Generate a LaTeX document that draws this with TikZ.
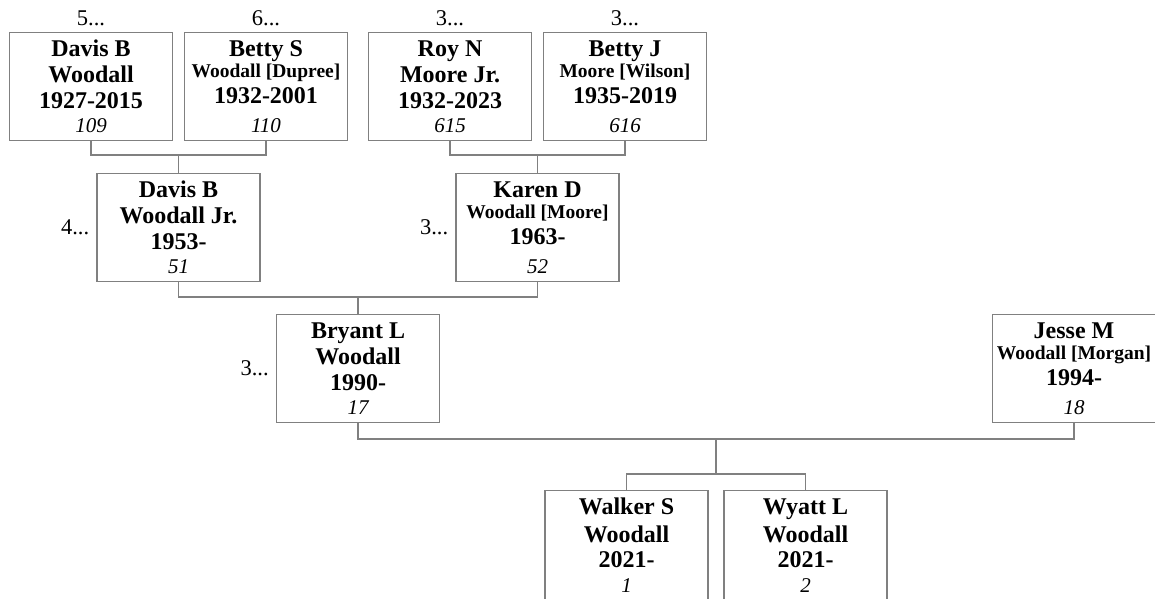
\documentclass[tikz,border=0pt]{standalone}
\usepackage{fontspec}
\setmainfont{Liberation Serif}
\definecolor{lg}{RGB}{128,128,128}
\tikzset{
  pbox/.style={draw=lg, line width=1.2pt, minimum width=163pt, minimum height=108pt, anchor=north, inner sep=0pt},
  conn/.style={draw=lg, line width=1.2pt},
  nm/.style={anchor=base, font=\fontsize{24}{28}\selectfont\bfseries, inner sep=0pt},
  subn/.style={anchor=base, font=\fontsize{19.5}{23}\selectfont\bfseries, inner sep=0pt},
  numb/.style={anchor=base, font=\fontsize{21}{24}\selectfont\itshape, inner sep=0pt},
  gen/.style={font=\fontsize{22.5}{27}\selectfont, inner sep=2pt},
}
% three bold lines
\newcommand\famA[7]{%
  \node[pbox] (#1) at (#2,#3) {};
  \node[nm] (#1a) at ([yshift=-24pt]#1.north) {#4};
  \node[nm] (#1b) at ([yshift=-50pt]#1.north) {#5};
  \node[nm] (#1c) at ([yshift=-76pt]#1.north) {#6};
  \node[numb] (#1d) at ([yshift=-100pt]#1.north) {#7};
}
% bold name, smaller married name line
\newcommand\famB[7]{%
  \node[pbox] (#1) at (#2,#3) {};
  \node[nm] (#1a) at ([yshift=-24pt]#1.north) {#4};
  \node[subn] (#1b) at ([yshift=-45pt]#1.north) {#5};
  \node[nm] (#1c) at ([yshift=-71pt]#1.north) {#6};
  \node[numb] (#1d) at ([yshift=-100pt]#1.north) {#7};
}
\begin{document}
\begin{tikzpicture}[x=1pt,y=-1pt]
\useasboundingbox (0,0) rectangle (1155,598);
\clip (0,0) rectangle (1155,598);
% generation 1
\famA{p109}{91}{32}{Davis B}{Woodall}{1927-2015}{109}
\famB{p110}{266}{32}{Betty S}{Woodall [Dupree]}{1932-2001}{110}
\famA{p615}{450}{32}{Roy N}{Moore Jr.}{1932-2023}{615}
\famB{p616}{625}{32}{Betty J}{Moore [Wilson]}{1935-2019}{616}
% generation 2
\famA{p51}{178.5}{173}{Davis B}{Woodall Jr.}{1953-}{51}
\famB{p52}{537.5}{173}{Karen D}{Woodall [Moore]}{1963-}{52}
% generation 3
\famA{p17}{358}{314}{Bryant L}{Woodall}{1990-}{17}
\famB{p18}{1074}{314}{Jesse M}{Woodall [Morgan]}{1994-}{18}
% children
\node[pbox, minimum height=140pt] (p1) at (626.5,490) {};
\node[nm] (p1a) at ([yshift=-24pt]p1.north) {Walker S};
\node[nm] (p1b) at ([yshift=-52pt]p1.north) {Woodall};
\node[nm] (p1c) at ([yshift=-77pt]p1.north) {2021-};
\node[numb] (p1d) at ([yshift=-102pt]p1.north) {1};
\node[pbox, minimum height=140pt] (p2) at (805.5,490) {};
\node[nm] (p2a) at ([yshift=-24pt]p2.north) {Wyatt L};
\node[nm] (p2b) at ([yshift=-52pt]p2.north) {Woodall};
\node[nm] (p2c) at ([yshift=-77pt]p2.north) {2021-};
\node[numb] (p2d) at ([yshift=-102pt]p2.north) {2};
% ancestor count labels
\node[gen, anchor=south] (l109) at ([yshift=4pt]p109.north) {5...};
\node[gen, anchor=south] (l110) at ([yshift=4pt]p110.north) {6...};
\node[gen, anchor=south] (l615) at ([yshift=4pt]p615.north) {3...};
\node[gen, anchor=south] (l616) at ([yshift=4pt]p616.north) {3...};
\node[gen, anchor=east] (l51) at ([xshift=-5pt]p51.west) {4...};
\node[gen, anchor=east] (l52) at ([xshift=-5pt]p52.west) {3...};
\node[gen, anchor=east] (l17) at ([xshift=-5pt]p17.west) {3...};
% junctions
\coordinate (j1) at (178.5,155);
\coordinate (j2) at (537.5,155);
\coordinate (j3) at (358,297);
\coordinate (j4) at (716,439);
\coordinate (j5) at (716,474);
% connectors
\draw[conn] (p109.south) |- (j1) -| (p110.south);
\draw[conn] (j1) -- (p51.north);
\draw[conn] (p615.south) |- (j2) -| (p616.south);
\draw[conn] (j2) -- (p52.north);
\draw[conn] (p51.south) |- (j3) -| (p52.south);
\draw[conn] (j3) -- (p17.north);
\draw[conn] (p17.south) |- (j4) -| (p18.south);
\draw[conn] (j4) -- (j5);
\draw[conn] (p1.north) |- (j5) -| (p2.north);
\end{tikzpicture}
\end{document}
